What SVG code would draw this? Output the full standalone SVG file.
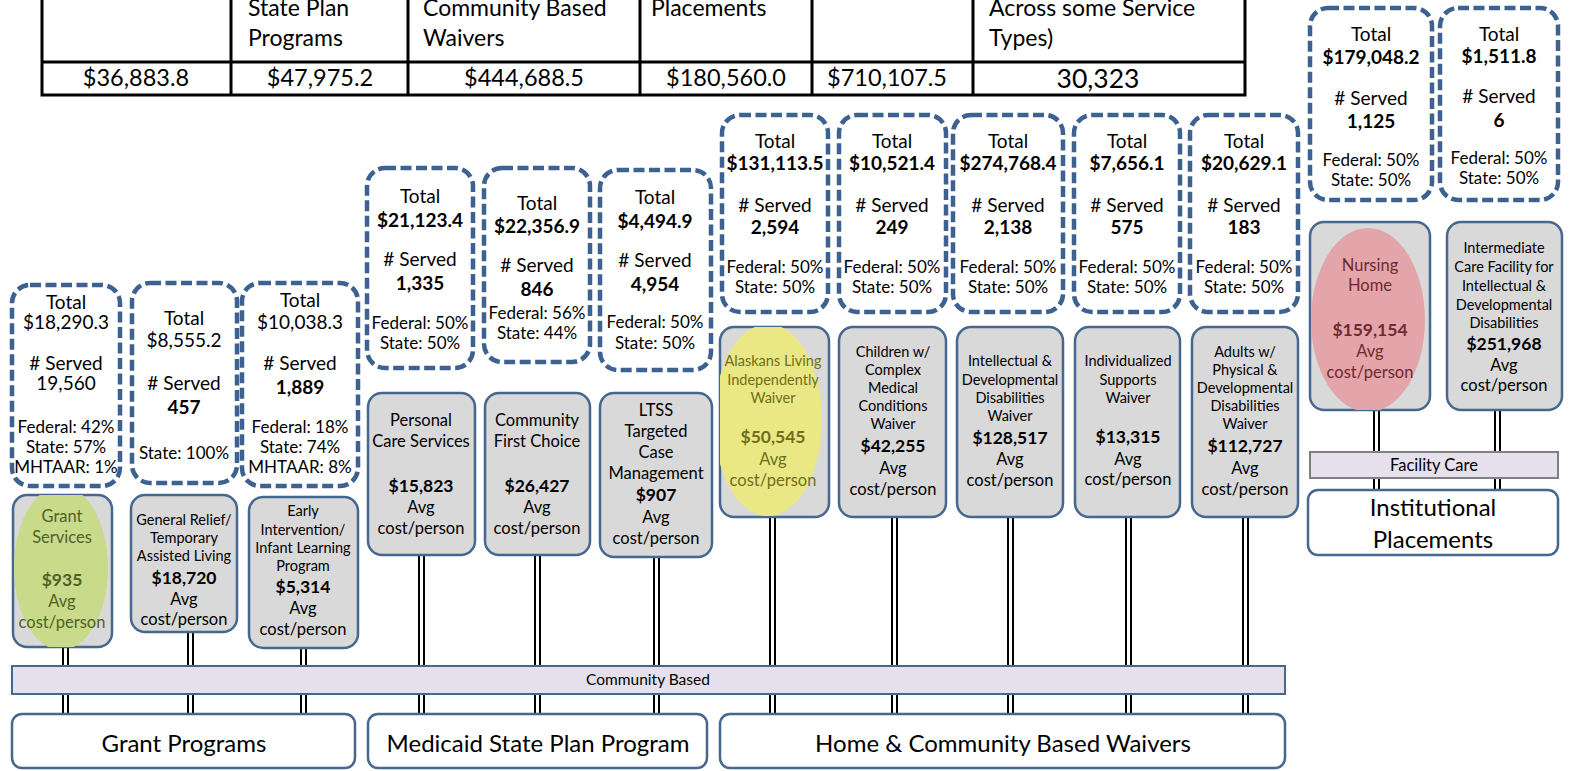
<svg xmlns="http://www.w3.org/2000/svg" width="1570" height="771" viewBox="0 0 1570 771">
<style>
text{font-family:Lato,"Liberation Sans",sans-serif;fill:#000;text-anchor:middle}
.dash{fill:#fff;stroke:#3d6190;stroke-width:4.5;stroke-dasharray:11 4.5}
.gray{fill:#d9d9d9;stroke:#46678f;stroke-width:2.5}
.big{font-size:19px}
.num{font-size:19px;font-weight:bold}
.pct{font-size:17px}
.sm{font-size:14.5px}
.avg{font-size:16.5px}
.cost{font-size:17.5px;font-weight:bold}
.bar{fill:#e5e0ec;stroke:#46678f;stroke-width:2}
.base{fill:#fff;stroke:#46678f;stroke-width:2.5}
.lbl{font-size:24px}
.tb{fill:none;stroke:#000;stroke-width:3}
.th{font-size:23px;text-anchor:start}
.tv{font-size:23.5px}
.conn line{stroke:#000;stroke-width:2}
.olive{fill:#4f6228}
.yel{fill:#6f6f1c}
.red{fill:#6e2a2e}
</style>
<defs>
<clipPath id="c1"><rect x="13" y="495" width="99" height="152" rx="14"/></clipPath>
<clipPath id="c7"><rect x="720" y="327" width="109" height="190" rx="14"/></clipPath>
<clipPath id="c12"><rect x="1310" y="222" width="120" height="188" rx="14"/></clipPath>
</defs>

<g id="table">
<rect class="tb" x="42" y="-10" width="1203" height="105"/>
<line class="tb" x1="42" y1="62" x2="1245" y2="62"/>
<line class="tb" x1="231" y1="-10" x2="231" y2="95"/>
<line class="tb" x1="408" y1="-10" x2="408" y2="95"/>
<line class="tb" x1="640" y1="-10" x2="640" y2="95"/>
<line class="tb" x1="812" y1="-10" x2="812" y2="95"/>
<line class="tb" x1="973" y1="-10" x2="973" y2="95"/>
<text class="th" x="248" y="16">State Plan</text>
<text class="th" x="248" y="46">Programs</text>
<text class="th" x="423" y="16">Community Based</text>
<text class="th" x="423" y="46">Waivers</text>
<text class="th" x="651" y="16">Placements</text>
<text class="th" x="989" y="16">Across some Service</text>
<text class="th" x="989" y="46">Types)</text>
<text class="tv" x="136" y="86">$36,883.8</text>
<text class="tv" x="320" y="86">$47,975.2</text>
<text class="tv" x="524" y="86">$444,688.5</text>
<text class="tv" x="726" y="86">$180,560.0</text>
<text class="tv" x="887" y="86">$710,107.5</text>
<text x="1098" y="88" style="font-size:26.5px">30,323</text>
</g>

<g class="conn" id="connectors">
<line x1="63" y1="647" x2="63" y2="714"/><line x1="68" y1="647" x2="68" y2="714"/>
<line x1="188" y1="632" x2="188" y2="714"/><line x1="193" y1="632" x2="193" y2="714"/>
<line x1="301" y1="648" x2="301" y2="714"/><line x1="306" y1="648" x2="306" y2="714"/>
<line x1="419" y1="556" x2="419" y2="714"/><line x1="424" y1="556" x2="424" y2="714"/>
<line x1="535" y1="556" x2="535" y2="714"/><line x1="540" y1="556" x2="540" y2="714"/>
<line x1="654" y1="557" x2="654" y2="714"/><line x1="659" y1="557" x2="659" y2="714"/>
<line x1="770" y1="517" x2="770" y2="714"/><line x1="775" y1="517" x2="775" y2="714"/>
<line x1="892" y1="517" x2="892" y2="714"/><line x1="897" y1="517" x2="897" y2="714"/>
<line x1="1008" y1="517" x2="1008" y2="714"/><line x1="1013" y1="517" x2="1013" y2="714"/>
<line x1="1126" y1="517" x2="1126" y2="714"/><line x1="1131" y1="517" x2="1131" y2="714"/>
<line x1="1243" y1="517" x2="1243" y2="714"/><line x1="1248" y1="517" x2="1248" y2="714"/>
<line x1="1374" y1="410" x2="1374" y2="490"/><line x1="1379" y1="410" x2="1379" y2="490"/>
<line x1="1495" y1="410" x2="1495" y2="490"/><line x1="1500" y1="410" x2="1500" y2="490"/>
</g>

<g id="community-based">
<rect class="bar" x="12" y="666" width="1273" height="28"/>
<text x="648" y="685" style="font-size:15.5px">Community Based</text>
</g>
<g id="facility-care">
<rect x="1310" y="452" width="248" height="26" style="fill:#e5e0ec;stroke:#808080;stroke-width:2"/>
<text x="1434" y="471" style="font-size:16.5px">Facility Care</text>
</g>

<g id="grant-programs">
<rect class="base" x="12" y="714" width="343" height="54" rx="10"/>
<text class="lbl" x="184" y="752">Grant Programs</text>
</g>
<g id="medicaid-state-plan">
<rect class="base" x="368" y="714" width="339" height="54" rx="10"/>
<text class="lbl" x="538" y="752">Medicaid State Plan Program</text>
</g>
<g id="hcb-waivers">
<rect class="base" x="720" y="714" width="565" height="54" rx="10"/>
<text class="lbl" x="1003" y="752">Home &amp; Community Based Waivers</text>
</g>
<g id="institutional">
<rect class="base" x="1308" y="490" width="250" height="65" rx="10"/>
<text class="lbl" x="1433" y="516">Institutional</text>
<text class="lbl" x="1433" y="548">Placements</text>
</g>

<!-- Grant programs -->
<g id="d-grant-services">
<rect class="dash" x="12" y="285" width="108" height="201" rx="18"/>
<text class="big" x="66" y="309">Total</text>
<text class="big" x="66" y="329">$18,290.3</text>
<text class="big" x="66" y="370"># Served</text>
<text class="big" x="66" y="390">19,560</text>
<text class="pct" x="66" y="433">Federal: 42%</text>
<text class="pct" x="66" y="453">State: 57%</text>
<text class="pct" x="66" y="473">MHTAAR: 1%</text>
</g>
<g id="g-grant-services">
<rect class="gray" x="13" y="495" width="99" height="152" rx="14"/>
<ellipse cx="61" cy="568" rx="47" ry="82" fill="#c9da8a" clip-path="url(#c1)"/>
<text class="avg olive" x="62" y="522">Grant</text>
<text class="avg olive" x="62" y="543">Services</text>
<text class="cost olive" x="62" y="586">$935</text>
<text class="avg olive" x="62" y="607">Avg</text>
<text class="avg olive" x="62" y="628">cost/person</text>
</g>

<g id="d-general-relief">
<rect class="dash" x="132" y="283" width="105" height="200" rx="18"/>
<text class="big" x="184" y="325">Total</text>
<text class="big" x="184" y="347">$8,555.2</text>
<text class="big" x="184" y="390"># Served</text>
<text class="num" x="184" y="414">457</text>
<text class="pct" x="184" y="459">State: 100%</text>
</g>
<g id="g-general-relief">
<rect class="gray" x="131" y="495" width="106" height="137" rx="14"/>
<text class="sm" x="184" y="525">General Relief/</text>
<text class="sm" x="184" y="543">Temporary</text>
<text class="sm" x="184" y="561">Assisted Living</text>
<text class="cost" x="184" y="584">$18,720</text>
<text class="avg" x="184" y="605">Avg</text>
<text class="avg" x="184" y="625">cost/person</text>
</g>

<g id="d-early-intervention">
<rect class="dash" x="242" y="283" width="116" height="203" rx="18"/>
<text class="big" x="300" y="307">Total</text>
<text class="big" x="300" y="329">$10,038.3</text>
<text class="big" x="300" y="370"># Served</text>
<text class="num" x="300" y="394">1,889</text>
<text class="pct" x="300" y="433">Federal: 18%</text>
<text class="pct" x="300" y="453">State: 74%</text>
<text class="pct" x="300" y="473">MHTAAR: 8%</text>
</g>
<g id="g-early-intervention">
<rect class="gray" x="249" y="497" width="109" height="151" rx="14"/>
<text class="sm" x="303" y="516">Early</text>
<text class="sm" x="303" y="535">Intervention/</text>
<text class="sm" x="303" y="553">Infant Learning</text>
<text class="sm" x="303" y="571">Program</text>
<text class="cost" x="303" y="593">$5,314</text>
<text class="avg" x="303" y="614">Avg</text>
<text class="avg" x="303" y="635">cost/person</text>
</g>

<!-- Medicaid State plan -->
<g id="d-personal-care">
<rect class="dash" x="367" y="168" width="106" height="200" rx="18"/>
<text class="big" x="420" y="203">Total</text>
<text class="num" x="420" y="227">$21,123.4</text>
<text class="big" x="420" y="266"># Served</text>
<text class="num" x="420" y="290">1,335</text>
<text class="pct" x="420" y="329">Federal: 50%</text>
<text class="pct" x="420" y="349">State: 50%</text>
</g>
<g id="g-personal-care">
<rect class="gray" x="368" y="393" width="107" height="162" rx="14"/>
<text class="avg" x="421" y="426">Personal</text>
<text class="avg" x="421" y="447">Care Services</text>
<text class="cost" x="421" y="492">$15,823</text>
<text class="avg" x="421" y="513">Avg</text>
<text class="avg" x="421" y="534">cost/person</text>
</g>

<g id="d-community-first-choice">
<rect class="dash" x="484" y="168" width="106" height="194" rx="18"/>
<text class="big" x="537" y="210">Total</text>
<text class="num" x="537" y="233">$22,356.9</text>
<text class="big" x="537" y="272"># Served</text>
<text class="num" x="537" y="296">846</text>
<text class="pct" x="537" y="319">Federal: 56%</text>
<text class="pct" x="537" y="339">State: 44%</text>
</g>
<g id="g-community-first-choice">
<rect class="gray" x="485" y="393" width="105" height="162" rx="14"/>
<text class="avg" x="537" y="426">Community</text>
<text class="avg" x="537" y="447">First Choice</text>
<text class="cost" x="537" y="492">$26,427</text>
<text class="avg" x="537" y="513">Avg</text>
<text class="avg" x="537" y="534">cost/person</text>
</g>

<g id="d-ltss">
<rect class="dash" x="600" y="170" width="111" height="200" rx="18"/>
<text class="big" x="655" y="204">Total</text>
<text class="num" x="655" y="228">$4,494.9</text>
<text class="big" x="655" y="267"># Served</text>
<text class="num" x="655" y="291">4,954</text>
<text class="pct" x="655" y="328">Federal: 50%</text>
<text class="pct" x="655" y="349">State: 50%</text>
</g>
<g id="g-ltss">
<rect class="gray" x="600" y="393" width="112" height="164" rx="14"/>
<text class="avg" x="656" y="416">LTSS</text>
<text class="avg" x="656" y="437">Targeted</text>
<text class="avg" x="656" y="458">Case</text>
<text class="avg" x="656" y="479">Management</text>
<text class="cost" x="656" y="501">$907</text>
<text class="avg" x="656" y="523">Avg</text>
<text class="avg" x="656" y="544">cost/person</text>
</g>

<!-- Waivers -->
<g id="d-ali">
<rect class="dash" x="722" y="115" width="106" height="197" rx="18"/>
<text class="big" x="775" y="148">Total</text>
<text class="num" x="775" y="170">$131,113.5</text>
<text class="big" x="775" y="212"># Served</text>
<text class="num" x="775" y="234">2,594</text>
<text class="pct" x="775" y="273">Federal: 50%</text>
<text class="pct" x="775" y="293">State: 50%</text>
</g>
<g id="g-ali">
<rect class="gray" x="720" y="327" width="109" height="190" rx="14"/>
<ellipse cx="768" cy="420" rx="54" ry="96" fill="#e9e884" clip-path="url(#c7)"/>
<text class="sm yel" x="773" y="366">Alaskans Living</text>
<text class="sm yel" x="773" y="385">Independently</text>
<text class="sm yel" x="773" y="403">Waiver</text>
<text class="cost yel" x="773" y="443">$50,545</text>
<text class="avg yel" x="773" y="465">Avg</text>
<text class="avg yel" x="773" y="486">cost/person</text>
</g>

<g id="d-ccmc">
<rect class="dash" x="839" y="115" width="107" height="197" rx="18"/>
<text class="big" x="892" y="148">Total</text>
<text class="num" x="892" y="170">$10,521.4</text>
<text class="big" x="892" y="212"># Served</text>
<text class="num" x="892" y="234">249</text>
<text class="pct" x="892" y="273">Federal: 50%</text>
<text class="pct" x="892" y="293">State: 50%</text>
</g>
<g id="g-ccmc">
<rect class="gray" x="839" y="327" width="107" height="190" rx="14"/>
<text class="sm" x="893" y="357">Children w/</text>
<text class="sm" x="893" y="375">Complex</text>
<text class="sm" x="893" y="393">Medical</text>
<text class="sm" x="893" y="411">Conditions</text>
<text class="sm" x="893" y="429">Waiver</text>
<text class="cost" x="893" y="452">$42,255</text>
<text class="avg" x="893" y="474">Avg</text>
<text class="avg" x="893" y="495">cost/person</text>
</g>

<g id="d-idd">
<rect class="dash" x="953" y="115" width="110" height="197" rx="18"/>
<text class="big" x="1008" y="148">Total</text>
<text class="num" x="1008" y="170">$274,768.4</text>
<text class="big" x="1008" y="212"># Served</text>
<text class="num" x="1008" y="234">2,138</text>
<text class="pct" x="1008" y="273">Federal: 50%</text>
<text class="pct" x="1008" y="293">State: 50%</text>
</g>
<g id="g-idd">
<rect class="gray" x="957" y="327" width="106" height="190" rx="14"/>
<text class="sm" x="1010" y="366">Intellectual &amp;</text>
<text class="sm" x="1010" y="385">Developmental</text>
<text class="sm" x="1010" y="403">Disabilities</text>
<text class="sm" x="1010" y="421">Waiver</text>
<text class="cost" x="1010" y="444">$128,517</text>
<text class="avg" x="1010" y="465">Avg</text>
<text class="avg" x="1010" y="486">cost/person</text>
</g>

<g id="d-isw">
<rect class="dash" x="1074" y="115" width="106" height="197" rx="18"/>
<text class="big" x="1127" y="148">Total</text>
<text class="num" x="1127" y="170">$7,656.1</text>
<text class="big" x="1127" y="212"># Served</text>
<text class="num" x="1127" y="234">575</text>
<text class="pct" x="1127" y="273">Federal: 50%</text>
<text class="pct" x="1127" y="293">State: 50%</text>
</g>
<g id="g-isw">
<rect class="gray" x="1075" y="327" width="105" height="190" rx="14"/>
<text class="sm" x="1128" y="366">Individualized</text>
<text class="sm" x="1128" y="385">Supports</text>
<text class="sm" x="1128" y="403">Waiver</text>
<text class="cost" x="1128" y="443">$13,315</text>
<text class="avg" x="1128" y="465">Avg</text>
<text class="avg" x="1128" y="485">cost/person</text>
</g>

<g id="d-apdd">
<rect class="dash" x="1190" y="115" width="108" height="197" rx="18"/>
<text class="big" x="1244" y="148">Total</text>
<text class="num" x="1244" y="170">$20,629.1</text>
<text class="big" x="1244" y="212"># Served</text>
<text class="num" x="1244" y="234">183</text>
<text class="pct" x="1244" y="273">Federal: 50%</text>
<text class="pct" x="1244" y="293">State: 50%</text>
</g>
<g id="g-apdd">
<rect class="gray" x="1192" y="327" width="106" height="190" rx="14"/>
<text class="sm" x="1245" y="357">Adults w/</text>
<text class="sm" x="1245" y="375">Physical &amp;</text>
<text class="sm" x="1245" y="393">Developmental</text>
<text class="sm" x="1245" y="411">Disabilities</text>
<text class="sm" x="1245" y="429">Waiver</text>
<text class="cost" x="1245" y="452">$112,727</text>
<text class="avg" x="1245" y="474">Avg</text>
<text class="avg" x="1245" y="495">cost/person</text>
</g>

<!-- Institutional -->
<g id="d-nursing-home">
<rect class="dash" x="1310" y="8" width="122" height="192" rx="18"/>
<text class="big" x="1371" y="41">Total</text>
<text class="num" x="1371" y="64">$179,048.2</text>
<text class="big" x="1371" y="105"># Served</text>
<text class="num" x="1371" y="128">1,125</text>
<text class="pct" x="1371" y="166">Federal: 50%</text>
<text class="pct" x="1371" y="186">State: 50%</text>
</g>
<g id="g-nursing-home">
<rect class="gray" x="1310" y="222" width="120" height="188" rx="14"/>
<ellipse cx="1368" cy="320" rx="57" ry="92" fill="#e3a5aa" clip-path="url(#c12)"/>
<text class="avg red" x="1370" y="271">Nursing</text>
<text class="avg red" x="1370" y="291">Home</text>
<text class="cost red" x="1370" y="336">$159,154</text>
<text class="avg red" x="1370" y="357">Avg</text>
<text class="avg red" x="1370" y="378">cost/person</text>
</g>

<g id="d-icf-idd">
<rect class="dash" x="1440" y="8" width="118" height="192" rx="18"/>
<text class="big" x="1499" y="41">Total</text>
<text class="num" x="1499" y="63">$1,511.8</text>
<text class="big" x="1499" y="103"># Served</text>
<text class="num" x="1499" y="127">6</text>
<text class="pct" x="1499" y="164">Federal: 50%</text>
<text class="pct" x="1499" y="184">State: 50%</text>
</g>
<g id="g-icf-idd">
<rect class="gray" x="1447" y="222" width="115" height="188" rx="14"/>
<text class="sm" x="1504" y="253">Intermediate</text>
<text class="sm" x="1504" y="272">Care Facility for</text>
<text class="sm" x="1504" y="291">Intellectual &amp;</text>
<text class="sm" x="1504" y="310">Developmental</text>
<text class="sm" x="1504" y="328">Disabilities</text>
<text class="cost" x="1504" y="350">$251,968</text>
<text class="avg" x="1504" y="371">Avg</text>
<text class="avg" x="1504" y="391">cost/person</text>
</g>
</svg>
